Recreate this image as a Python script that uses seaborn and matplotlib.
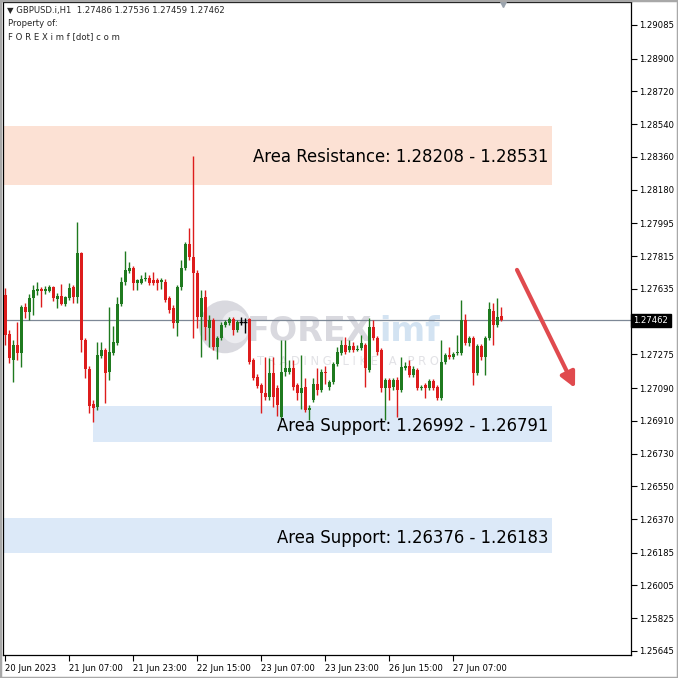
import numpy as np
import pandas as pd
import matplotlib
matplotlib.use("Agg")
import matplotlib.pyplot as plt
from matplotlib.patches import Rectangle, Ellipse
import seaborn as sns

# ---------------- data ----------------
symbol_header = "\u25bc GBPUSD.i,H1  1.27486 1.27536 1.27459 1.27462"
opens = [1.27602, 1.27387, 1.27244, 1.27327, 1.27283, 1.27536, 1.27508, 1.27585, 1.27624, 1.27635,
         1.27624, 1.27624, 1.27646, 1.27580, 1.27596, 1.27552, 1.27585, 1.27646, 1.27591, 1.27833,
         1.27354, 1.27195, 1.27002, 1.26986, 1.27266, 1.27299, 1.27178, 1.27283, 1.27338, 1.27552,
         1.27673, 1.27734, 1.27750, 1.27668, 1.27668, 1.27690, 1.27695, 1.27684, 1.27684, 1.27673,
         1.27673, 1.27585, 1.27530, 1.27448, 1.27646, 1.27750, 1.27882, 1.27811, 1.27723, 1.27481,
         1.27591, 1.27420, 1.27464, 1.27316, 1.27365, 1.27437, 1.27448, 1.27470, 1.27409, 1.27453,
         1.27453, 1.27470, 1.27244, 1.27151, 1.27107, 1.27063, 1.27041, 1.27173, 1.27090, 1.26931,
         1.27178, 1.27178, 1.27200, 1.27107, 1.27063, 1.27096, 1.26969, 1.27024, 1.27112, 1.27079,
         1.27178, 1.27096, 1.27123, 1.27222, 1.27283, 1.27327, 1.27299, 1.27321, 1.27299, 1.27310,
         1.27327, 1.27189, 1.27426, 1.27365, 1.27299, 1.27090, 1.27134, 1.27096, 1.27134, 1.27079,
         1.27200, 1.27211, 1.27162, 1.27189, 1.27090, 1.27107, 1.27090, 1.27129, 1.27096, 1.27035,
         1.27233, 1.27272, 1.27261, 1.27283, 1.27283, 1.27464, 1.27338, 1.27365, 1.27173, 1.27321,
         1.27261, 1.27365, 1.27514, 1.27437, 1.27486]
highs = [1.27640, 1.27409, 1.27354, 1.27453, 1.27547, 1.27558, 1.27607, 1.27657, 1.27673, 1.27646,
         1.27651, 1.27657, 1.27651, 1.27613, 1.27662, 1.27596, 1.27668, 1.27657, 1.28003, 1.27838,
         1.27365, 1.27211, 1.27024, 1.27343, 1.27343, 1.27310, 1.27536, 1.27431, 1.27591, 1.27701,
         1.27844, 1.27783, 1.27761, 1.27690, 1.27712, 1.27728, 1.27712, 1.27728, 1.27695, 1.27695,
         1.27690, 1.27596, 1.27547, 1.27657, 1.27794, 1.27893, 1.27970, 1.28366, 1.27739, 1.27629,
         1.27629, 1.27492, 1.27475, 1.27376, 1.27453, 1.27464, 1.27481, 1.27481, 1.27464, 1.27481,
         1.27475, 1.27475, 1.27255, 1.27167, 1.27118, 1.27261, 1.27255, 1.27261, 1.27107, 1.27354,
         1.27354, 1.27244, 1.27244, 1.27118, 1.27272, 1.27145, 1.26997, 1.27145, 1.27200, 1.27195,
         1.27211, 1.27134, 1.27233, 1.27316, 1.27354, 1.27371, 1.27354, 1.27343, 1.27327, 1.27382,
         1.27338, 1.27475, 1.27464, 1.27376, 1.27310, 1.27145, 1.27145, 1.27145, 1.27151, 1.27261,
         1.27233, 1.27244, 1.27211, 1.27200, 1.27107, 1.27118, 1.27140, 1.27140, 1.27107, 1.27354,
         1.27283, 1.27316, 1.27288, 1.27382, 1.27574, 1.27497, 1.27376, 1.27376, 1.27332, 1.27332,
         1.27376, 1.27563, 1.27558, 1.27585, 1.27536]
lows = [1.27327, 1.27228, 1.27123, 1.27244, 1.27206, 1.27475, 1.27464, 1.27492, 1.27602, 1.27536,
        1.27607, 1.27618, 1.27569, 1.27530, 1.27547, 1.27541, 1.27574, 1.27558, 1.27558, 1.27288,
        1.27145, 1.26953, 1.26903, 1.26969, 1.27255, 1.27008, 1.27134, 1.27272, 1.27327, 1.27541,
        1.27657, 1.27723, 1.27629, 1.27629, 1.27662, 1.27679, 1.27657, 1.27657, 1.27629, 1.27635,
        1.27563, 1.27503, 1.27420, 1.27376, 1.27629, 1.27739, 1.27794, 1.27365, 1.27420, 1.27261,
        1.27354, 1.27316, 1.27299, 1.27250, 1.27354, 1.27426, 1.27437, 1.27382, 1.27398, 1.27437,
        1.27393, 1.27222, 1.27134, 1.27090, 1.26953, 1.27024, 1.27024, 1.26986, 1.26936, 1.26914,
        1.27156, 1.27167, 1.27079, 1.27024, 1.26975, 1.26958, 1.26914, 1.27013, 1.27052, 1.27068,
        1.27112, 1.27079, 1.27112, 1.27211, 1.27272, 1.27277, 1.27288, 1.27288, 1.27294, 1.27299,
        1.27096, 1.27178, 1.27354, 1.27272, 1.27068, 1.26914, 1.27024, 1.27079, 1.26931, 1.27068,
        1.27189, 1.27151, 1.27151, 1.27079, 1.27079, 1.27035, 1.27079, 1.27079, 1.27024, 1.27024,
        1.27222, 1.27250, 1.27250, 1.27272, 1.27272, 1.27327, 1.27321, 1.27107, 1.27162, 1.27244,
        1.27162, 1.27354, 1.27327, 1.27426, 1.27459]
closes = [1.27382, 1.27255, 1.27327, 1.27283, 1.27536, 1.27508, 1.27585, 1.27629, 1.27635, 1.27624,
          1.27635, 1.27646, 1.27585, 1.27596, 1.27552, 1.27591, 1.27640, 1.27591, 1.27833, 1.27354,
          1.27195, 1.26991, 1.26980, 1.27272, 1.27299, 1.27173, 1.27288, 1.27343, 1.27552, 1.27673,
          1.27739, 1.27750, 1.27668, 1.27684, 1.27690, 1.27695, 1.27668, 1.27668, 1.27668, 1.27684,
          1.27574, 1.27519, 1.27448, 1.27646, 1.27750, 1.27882, 1.27811, 1.27723, 1.27481, 1.27585,
          1.27426, 1.27464, 1.27316, 1.27365, 1.27437, 1.27453, 1.27470, 1.27409, 1.27453, 1.27453,
          1.27453, 1.27233, 1.27145, 1.27101, 1.27063, 1.27041, 1.27173, 1.27041, 1.26997, 1.27178,
          1.27200, 1.27200, 1.27096, 1.27063, 1.27090, 1.26969, 1.26980, 1.27112, 1.27079, 1.27178,
          1.27173, 1.27123, 1.27222, 1.27288, 1.27327, 1.27288, 1.27321, 1.27299, 1.27305, 1.27338,
          1.27200, 1.27426, 1.27365, 1.27288, 1.27090, 1.27134, 1.27090, 1.27134, 1.27079, 1.27206,
          1.27211, 1.27162, 1.27195, 1.27090, 1.27096, 1.27090, 1.27129, 1.27090, 1.27035, 1.27233,
          1.27272, 1.27261, 1.27277, 1.27288, 1.27464, 1.27338, 1.27365, 1.27173, 1.27321, 1.27261,
          1.27365, 1.27525, 1.27437, 1.27481, 1.27462]

date_ticks_bar = [0, 16, 32, 48, 64, 80, 96, 112]
date_tick_labels = ["20 Jun 2023", "21 Jun 07:00", "21 Jun 23:00", "22 Jun 15:00",
                    "23 Jun 07:00", "23 Jun 23:00", "26 Jun 15:00", "27 Jun 07:00"]
price_ticks = [1.29085, 1.28900, 1.28720, 1.28540, 1.28360, 1.28180, 1.27995, 1.27815, 1.27635,
               1.27275, 1.27090, 1.26910, 1.26730, 1.26550, 1.26370, 1.26185, 1.26005, 1.25825, 1.25645]
current_price = 1.27462

zone_labels = ["Area Resistance: 1.28208 - 1.28531",
               "Area Support: 1.26992 - 1.26791",
               "Area Support: 1.26376 - 1.26183"]
zone_low = [1.28208, 1.26791, 1.26183]
zone_high = [1.28531, 1.26992, 1.26376]
zone_start_bar = [-0.5, 22, -0.5]
zone_end_bar = 136.75
zone_colors = ["#fce1d4", "#dce9f8", "#dce9f8"]
zone_label_y = [1.28360, 1.26880, 1.26266]

df = pd.DataFrame({"bar": np.arange(len(opens)), "open": opens, "high": highs,
                   "low": lows, "close": closes})

# ---------------- figure ----------------
sns.set_style("white")
plt.rcParams["font.family"] = ["DejaVu Sans"]

W = 678
fig = plt.figure(figsize=(6.78, 6.78), dpi=100)
fig.patch.set_facecolor("white")
ax_l, ax_r, ax_t, ax_b = 3, 631, 2, 655
ax = fig.add_axes([ax_l / W, 1 - ax_b / W, (ax_r - ax_l) / W, (ax_b - ax_t) / W])
ax.set_facecolor("white")
ax.set_xlim(-0.5, 156.5)
ax.set_ylim(1.25623, 1.29211)

# zones
for lo, hi, x0, c in zip(zone_low, zone_high, zone_start_bar, zone_colors):
    ax.add_patch(Rectangle((x0, lo), zone_end_bar - x0, hi - lo, facecolor=c,
                           edgecolor="none", zorder=0))

# watermark (background logo)
ax.add_patch(Ellipse((55, 1.27426), 13.0, 0.00290, facecolor="#d9d9df",
                     edgecolor="none", zorder=0.5))
ax.add_patch(Ellipse((57.5, 1.27426), 7.0, 0.00180, facecolor="#ececf0",
                     edgecolor="none", zorder=0.55))
ax.text(60.5, 1.27400, "FOREX", fontsize=24, fontweight="bold", color="#d9d9df",
        ha="left", va="center", zorder=0.6)
ax.text(93.5, 1.27400, "imf", fontsize=24, fontweight="bold", color="#d3e3f2",
        ha="left", va="center", zorder=0.6)
ax.text(63, 1.27235, "T R A D I N G   L I K E   A   P R O", fontsize=8.3, color="#e2e2e6",
        ha="left", va="center", zorder=0.6)

# current price line
ax.axhline(current_price, color="#7d8896", lw=0.9, zorder=1)

# candles
up_c, dn_c = "#1f7a1f", "#dd1c1c"
cols = np.where(df.close > df.open, up_c, np.where(df.close < df.open, dn_c, "#000000"))
ax.vlines(df.bar, df.low, df.high, colors=cols, lw=1.0, zorder=2)
body_lo = np.minimum(df.open, df.close)
body_h = np.maximum(np.abs(df.close - df.open), 0.00002)
ax.bar(df.bar, body_h, bottom=body_lo, width=0.75, color=cols, linewidth=0, zorder=3)
dj = df[df.close == df.open]
ax.hlines(dj.close, dj.bar - 0.45, dj.bar + 0.45, colors="black", lw=1.0, zorder=3)

# zone labels
for txt, yv in zip(zone_labels, zone_label_y):
    ax.text(135.8, yv, txt, fontsize=11.9, ha="right", va="center", color="black", zorder=4)

# arrow
ax.annotate("", xy=(142.5, 1.27090), xytext=(128, 1.27739),
            arrowprops=dict(arrowstyle="-|>,head_length=0.9,head_width=0.45",
                            color="#e04a4e", lw=3, shrinkA=0, shrinkB=0), zorder=5)

# shift marker
ax.plot([124.5], [1.29211], marker="v", color="#9aa3ad", ms=7, clip_on=False, zorder=6)

# axes styling
for s in ax.spines.values():
    s.set_color("black")
    s.set_linewidth(0.9)
ax.yaxis.tick_right()
ax.set_yticks(price_ticks)
ax.set_yticklabels([f"{p:.5f}" for p in price_ticks])
ax.set_xticks(date_ticks_bar)
ax.set_xticklabels(date_tick_labels, ha="left")
ax.tick_params(axis="y", direction="out", length=4, width=0.8, pad=2, labelsize=6.1,
               right=True, left=False, colors="black")
ax.tick_params(axis="x", direction="out", length=4, width=0.8, pad=2.5, labelsize=6.1,
               bottom=True, colors="black")

# current price label
ax.text(1.004, current_price, f"{current_price:.5f}", transform=ax.get_yaxis_transform(),
        fontsize=6.1, color="white", ha="left", va="center",
        bbox=dict(boxstyle="square,pad=0.25", facecolor="black", edgecolor="black"),
        clip_on=False, zorder=7)

# header text
fig.text(7 / W, 1 - 11 / W, symbol_header, fontsize=6.1, ha="left", va="center")
fig.text(8 / W, 1 - 24 / W, "Property of:", fontsize=6.1, ha="left", va="center")
fig.text(8 / W, 1 - 37 / W, "F O R E X i m f [dot] c o m", fontsize=6.1, ha="left", va="center")

# window frame
fig.add_artist(Rectangle((0, 0), 1, 1, transform=fig.transFigure, fill=False,
                         edgecolor="#a8a8a8", lw=2.5))

fig.savefig("out.png", dpi=100, facecolor="white")
